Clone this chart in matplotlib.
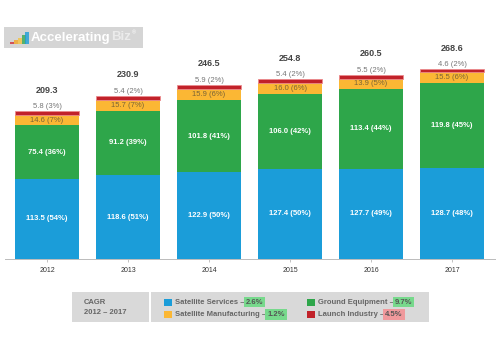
import matplotlib
matplotlib.use("Agg")
import matplotlib.pyplot as plt
from matplotlib.patches import Rectangle
import numpy as np

plt.rcParams['font.family'] = ['Liberation Sans', 'DejaVu Sans']

years = ['2012', '2013', '2014', '2015', '2016', '2017']
services = [113.5, 118.6, 122.9, 127.4, 127.7, 128.7]
services_pct = [54, 51, 50, 50, 49, 48]
ground = [75.4, 91.2, 101.8, 106.0, 113.4, 119.8]
ground_pct = [36, 39, 41, 42, 44, 45]
manufacturing = [14.6, 15.7, 15.9, 16.0, 13.9, 15.5]
manufacturing_pct = [7, 7, 6, 6, 5, 6]
launch = [5.8, 5.4, 5.9, 5.4, 5.5, 4.6]
launch_pct = [3, 2, 2, 2, 2, 2]
totals = [209.3, 230.9, 246.5, 254.8, 260.5, 268.6]

legend_names = ['Satellite Services', 'Satellite Manufacturing', 'Ground Equipment', 'Launch Industry']
cagr = ['2.6%', '1.2%', '9.7%', '4.5%']

c_blue = '#1b9dd9'
c_green = '#2ea64a'
c_yellow = '#fbb734'
c_red = '#c1222a'

W, H = 500, 356
fig = plt.figure(figsize=(5, 3.56), dpi=100)
ax = fig.add_axes([0.01, (H - 259) / H, 0.98, 300 * 0.707 / H])

x = np.arange(len(years))
bw = 0.79
s = np.array(services)
g = np.array(ground)
m = np.array(manufacturing)
l = np.array(launch)

ax.bar(x, s, bw, color=c_blue, linewidth=0)
ax.bar(x, g, bw, bottom=s, color=c_green, linewidth=0)
ax.bar(x, m, bw, bottom=s + g, color=c_yellow, linewidth=0)
ax.bar(x, l, bw, bottom=s + g + m, color=c_red, edgecolor='#ec8a8c', linewidth=0.6)

for i in range(len(years)):
    ax.text(x[i], s[i] / 2, f'{services[i]:.1f} ({services_pct[i]}%)', ha='center', va='center',
            color='white', fontsize=5.5, fontweight='bold')
    ax.text(x[i], s[i] + g[i] / 2, f'{ground[i]:.1f} ({ground_pct[i]}%)', ha='center', va='center',
            color='white', fontsize=5.5, fontweight='bold')
    ax.text(x[i], s[i] + g[i] + m[i] / 2, f'{manufacturing[i]:.1f} ({manufacturing_pct[i]}%)',
            ha='center', va='center', color='#7a6436', fontsize=5.5)
    top = s[i] + g[i] + m[i] + l[i]
    ax.annotate(f'{launch[i]:.1f} ({launch_pct[i]}%)', (x[i], top), xytext=(0, 0.8),
                textcoords='offset points', ha='center', va='bottom', color='#777777', fontsize=5.5)
    ax.annotate(f'{totals[i]:.1f}', (x[i], top), xytext=(0, 15), textcoords='offset points',
                ha='center', va='center', color='#444444', fontsize=6.5, fontweight='bold')

ax.set_xlim((5 - 47) / 81, (495 - 47) / 81)
ax.set_ylim(0, 300)
ax.set_xticks(x)
ax.set_xticklabels(years, fontsize=5, color='#333333')
ax.tick_params(axis='x', length=2.5, width=0.5, color='#aaaaaa', pad=3)
ax.set_yticks([])
for sp in ['top', 'right', 'left']:
    ax.spines[sp].set_visible(False)
ax.spines['bottom'].set_color('#bbbbbb')
ax.spines['bottom'].set_linewidth(0.7)

# Logo
fig.patches.append(Rectangle((4 / W, 1 - 48 / H), 139 / W, 21 / H, transform=fig.transFigure,
                             facecolor='#d5d5d5', edgecolor='none'))
icon = [(10, 2, '#d0303a'), (14, 4, '#f5a623'), (18, 6, '#f5c342'), (22, 9, '#35a853'), (25, 12, '#1b9dd9')]
for px, h, col in icon:
    fig.patches.append(Rectangle((px / W, 1 - 44 / H), 3.5 / W, h / H, transform=fig.transFigure,
                                 facecolor=col, edgecolor='none', alpha=0.8))
t1 = fig.text(31 / W, 1 - 37.5 / H, 'Accelerating', color='white', fontsize=9.5, fontweight='bold',
              va='center', ha='left')
fig.canvas.draw()
r = fig.canvas.get_renderer()
bb = t1.get_window_extent(r)
t2 = fig.text(bb.x1 / W, 1 - 37.5 / H, 'Biz', color='#ebebeb', fontsize=9.5, fontweight='bold',
              va='center', ha='left')
bb2 = t2.get_window_extent(r)
fig.text(bb2.x1 / W + 0.003, 1 - 33 / H, '®', color='white', fontsize=4, va='center', ha='left')

# Legend boxes
fig.patches.append(Rectangle((72 / W, 1 - 322 / H), 77 / W, 30 / H, transform=fig.transFigure,
                             facecolor='#d9d9d9', edgecolor='none'))
fig.patches.append(Rectangle((151 / W, 1 - 322 / H), 278 / W, 30 / H, transform=fig.transFigure,
                             facecolor='#d9d9d9', edgecolor='none'))
fig.text(84 / W, 1 - 303 / H, 'CAGR', fontsize=5.5, fontweight='bold', color='#666666', va='center')
fig.text(84 / W, 1 - 312 / H, '2012 – 2017', fontsize=5.5, fontweight='bold', color='#666666', va='center')

leg_colors = [c_blue, c_yellow, c_green, c_red]
leg_x = [164, 164, 307, 307]
leg_y = [302, 314.5, 302, 314.5]
hl_colors = ['#77d98c', '#77d98c', '#77d98c', '#f0999c']
for i in range(4):
    yy = 1 - leg_y[i] / H
    fig.patches.append(Rectangle((leg_x[i] / W, yy - 3.5 / H), 7.5 / W, 7 / H, transform=fig.transFigure,
                                 facecolor=leg_colors[i], edgecolor='none'))
    tt = fig.text((leg_x[i] + 11) / W, yy, legend_names[i] + ' –', fontsize=5.5, fontweight='bold',
                  color='#666666', va='center', ha='left')
    b = tt.get_window_extent(r)
    fig.text(b.x1 / W + 0.002, yy, cagr[i], fontsize=5.5, fontweight='bold', color='#555555',
             va='center', ha='left',
             bbox=dict(boxstyle='square,pad=0.25', facecolor=hl_colors[i], edgecolor='none'))

fig.savefig('out.png', dpi=100)
